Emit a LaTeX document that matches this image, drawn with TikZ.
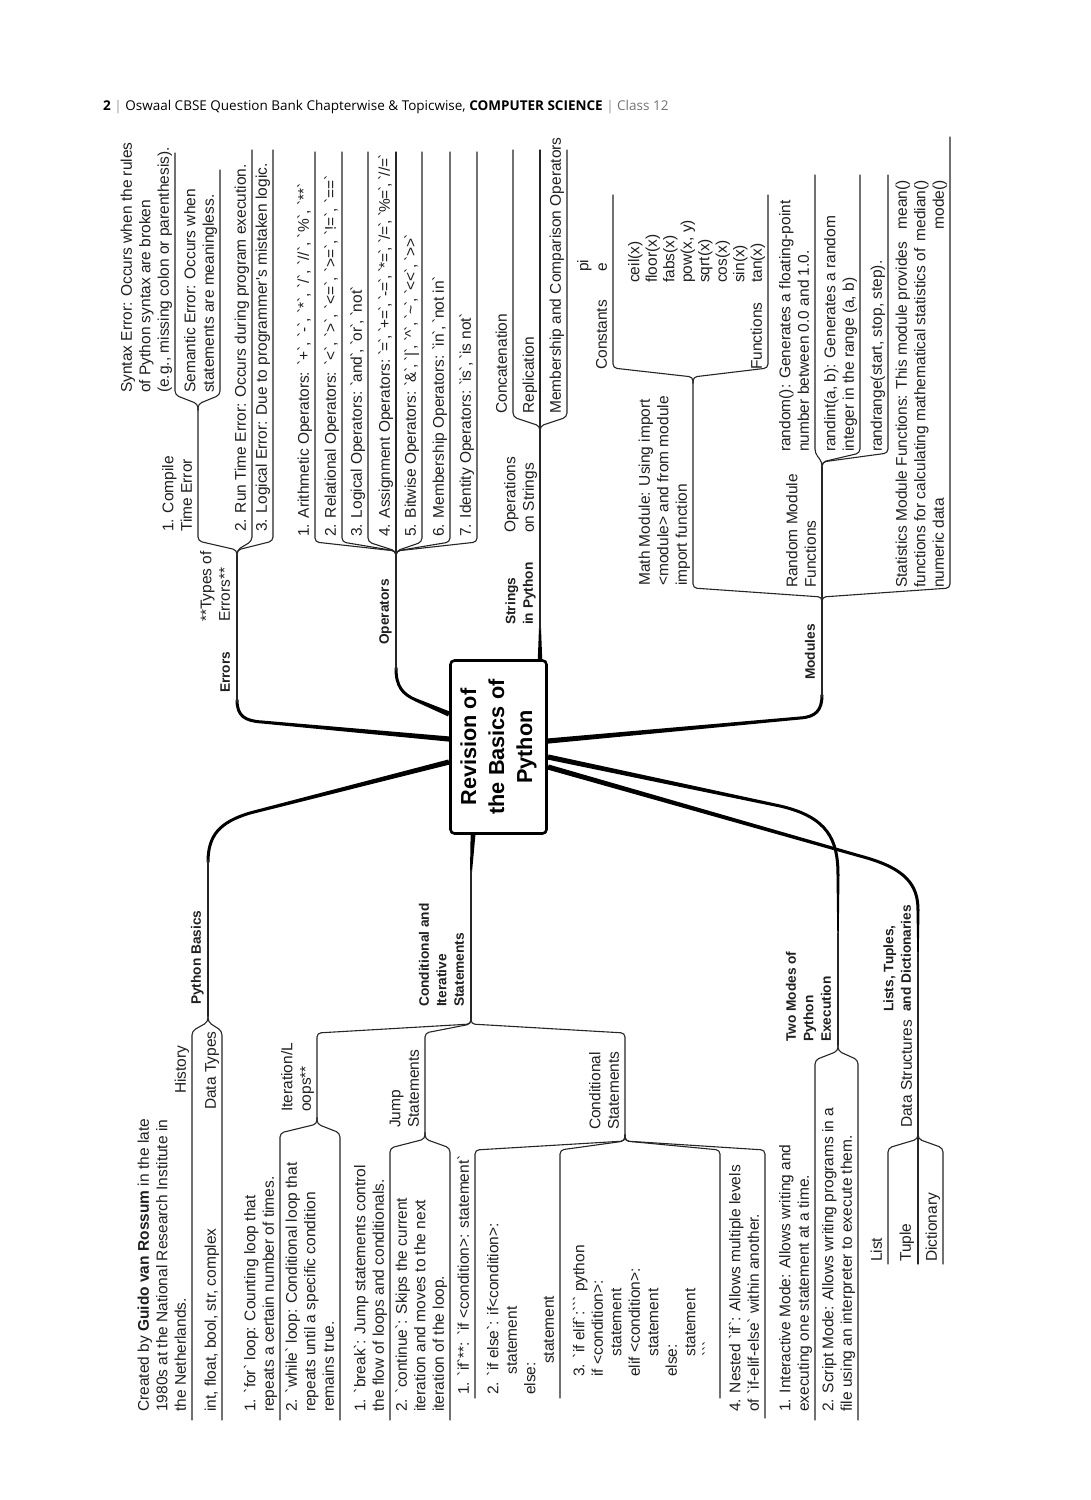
\documentclass[tikz,border=0pt]{standalone}
\usepackage{fontspec}
\newfontfamily\bodyfont{Liberation Sans}
\newfontfamily\hdfont{Open Sans}
\usetikzlibrary{calc}
\newcommand\arm[5]{\draw[ul,rounded corners=4pt] (#1,#2) -- (#1,{#2+(#4)*6}) -- (#3,{#2+(#4)*15}) -- (#3,#5);}
\newcommand\taper[4]{\fill[black] ($(#1)!#3!90:(#2)$) -- ($(#2)!#4!-90:(#1)$) -- ($(#2)!#4!90:(#1)$) -- ($(#1)!#3!-90:(#2)$) -- cycle;}
\newcommand\bt{\kern-0.9pt`\kern-0.9pt}
\newcommand\btt{\kern-1.3pt`\kern-1.3pt}
\begin{document}
\begin{tikzpicture}[x=1pt,y=-1pt,
  ul/.style={line width=1.1pt,line cap=round,black!85},
  thk/.style={line width=3pt,line cap=round},
  tx/.style={rotate=90,anchor=south west,inner sep=0pt,text depth=0pt,align=left,text=black!88,font={\bodyfont\fontsize{15.5}{18.5}\selectfont}},
  bl/.style={tx,font={\bodyfont\bfseries\fontsize{13.7}{17.5}\selectfont}},
  rootbox/.style={draw,line width=2.6pt,rounded corners=4pt,rotate=90,minimum width=173pt,minimum height=96pt,inner sep=0pt,align=center,fill=white,font={\bodyfont\bfseries\fontsize{21.7}{28}\selectfont}}]
\useasboundingbox (0,0) rectangle (1091,1500);
\fill[white] (0,0) rectangle (1091,1500);
% header
\node[anchor=base west,inner sep=0pt,font={\hdfont\fontsize{13.5}{15}\selectfont}] (hdr) at (103,110)
 {\textbf{2} {\color{black!40}|} Oswaal CBSE Question Bank Chapterwise \& Topicwise, \textbf{COMPUTER SCIENCE} {\color{black!40}|} {\color{black!55}Class 12}};
%% ---------- thick connectors ----------
% Errors
\taper{449,739}{262,722}{2.6pt}{1.5pt}
\draw[thk] (262,722) .. controls (245,721) and (237,716) .. (237,700);
% Operators
\taper{449,714}{416,700}{2.6pt}{1.6pt}
\draw[thk] (416,700) .. controls (402,694) and (396,686) .. (396,668);
% Strings
\taper{540,659}{540,628}{2.2pt}{1pt}
% Modules
\taper{548,741}{800,718}{2.6pt}{1.5pt}
\draw[thk] (800,718) .. controls (816,717) and (822,710) .. (822,695);
% Python Basics
\taper{449,762}{250,813}{2.6pt}{1.5pt}
\draw[thk] (250,813) .. controls (220,822) and (208,835) .. (208,862);
% Conditional
\taper{473,835}{471,872}{2.4pt}{1pt}
% Two modes
\taper{548,757}{780,806}{2.6pt}{1.5pt}
\draw[thk] (780,806) .. controls (828,817) and (838,840) .. (838,875);
\taper{838,875}{838,935}{1.5pt}{0.7pt}
% Lists
\taper{548,767}{860,856}{2.6pt}{1.5pt}
\draw[thk] (860,856) .. controls (906,868) and (918,885) .. (918,910);
\taper{918,910}{918,955}{1.5pt}{0.7pt}
%% ---------- thin lines and braces ----------
% Errors
\coordinate (jerr) at (237,556);
\draw[ul] (237,702) -- (jerr);
\arm{237}{556}{198}{-1}{410}
\arm{237}{556}{252}{-1}{150}
\arm{237}{556}{273}{-1}{150}
\coordinate (jcte) at (198,410);
\arm{198}{410}{175}{-1}{153}
\arm{198}{410}{220}{-1}{170}
% Operators
\coordinate (jop) at (396,557);
\draw[ul] (396,670) -- (jop);
\foreach \u in {315,342,368,396,422,450,477} {\arm{396}{557}{\u}{-1}{152}}
% Strings
\coordinate (jstr) at (540,432);
\draw[ul] (540,630) -- (jstr);
\foreach \u in {513,540,567} {\arm{540}{432}{\u}{-1}{150}}
% Modules
\coordinate (jmod) at (822,603);
\draw[ul] (822,697) -- (jmod);
\arm{822}{603}{693}{-1}{383}
\arm{822}{603}{822}{-1}{468}
\arm{822}{603}{950}{-1}{137}
\coordinate (jmath) at (693,383);
\arm{693}{383}{613}{-1}{195}
\arm{693}{383}{768}{-1}{195}
\coordinate (jrand) at (822,468);
\arm{822}{468}{815}{-1}{175}
\arm{822}{468}{860}{-1}{175}
\arm{822}{468}{888}{-1}{175}
% Python basics
\coordinate (jpb) at (208,1016);
\draw[ul] (208,860) -- (jpb);
\arm{208}{1016}{192}{1}{1420}
\arm{208}{1016}{222}{1}{1420}
% Conditional & iterative
\coordinate (jci) at (471,1018);
\draw[ul] (471,870) -- (jci);
\arm{471}{1018}{317}{1}{1118}
\arm{471}{1018}{425}{1}{1133}
\arm{471}{1018}{625}{1}{1135}
\arm{317}{1118}{280}{1}{1420}
\arm{317}{1118}{340}{1}{1420}
\arm{425}{1133}{390}{1}{1420}
\arm{425}{1133}{450}{1}{1420}
\arm{625}{1135}{475}{1}{1398}
\arm{625}{1135}{560}{1}{1398}
\arm{625}{1135}{720}{1}{1398}
\arm{625}{1135}{765}{1}{1418}
% Two modes
\coordinate (jtm) at (838,1045);
\draw[ul] (838,933) -- (jtm);
\arm{838}{1045}{815}{1}{1420}
\arm{838}{1045}{858}{1}{1420}
% Lists
\coordinate (jds) at (918,1133);
\draw[ul] (918,953) -- (jds);
\arm{918}{1133}{888}{1}{1264}
\arm{918}{1133}{918}{1}{1264}
\arm{918}{1133}{943}{1}{1264}
%% ---------- root ----------
\node[rootbox] (root) at (498.5,747) {Revision of\\the Basics of\\Python};
%% ---------- texts: right side ----------
\node[bl] (errL) at (230,693) {Errors};
\node[tx] (toe) at (230,622) {**Types of\\Errors**};
\node[tx] (cte) at (192,532) {1. Compile\\Time Error};
\node[tx] (rte) at (246,532) {2. Run Time Error: Occurs during program execution.};
\node[tx] (lge) at (267,532) {3. Logical Error: Due to programmer's mistaken logic.};
\node[tx] (syn) at (169,393) {Syntax Error: Occurs when the rules\\of Python syntax are broken\\(e.g., missing colon or parenthesis).};
\node[tx] (sem) at (214,393) {Semantic Error: Occurs when\\statements are meaningless.};
\node[bl] (opL) at (389,645) {Operators};
\node[tx] (op1) at (309,537) {1. Arithmetic Operators: `+`, `-`, `*`, `/`, `//`, `\%`, `**`};
\node[tx] (op2) at (336,537) {2. Relational Operators: `<`, `>`, `<=`, `>=`, `!=`, `==`};
\node[tx] (op3) at (362,537) {3. Logical Operators: \bt and\bt, \bt or\bt, \bt not\bt};
\node[tx] (op4) at (390,537) {4. Assignment Operators: \btt=\btt, \btt+=\btt, \btt-=\btt, \btt*=\btt, \btt/=\btt, \btt\%=\btt, \btt//=\btt};
\node[tx] (op5) at (416,537) {5. Bitwise Operators: \bt\&\bt, \bt|\bt, \bt\textasciicircum\bt, \bt\textasciitilde\bt, \bt<<\bt, \bt>>\bt};
\node[tx] (op6) at (444,537) {6. Membership Operators: \bt in\bt, \bt not in\bt};
\node[tx] (op7) at (471,537) {7. Identity Operators: \bt is\bt, \bt is not\bt};
\node[bl] (strL) at (533,625) {Strings\\in Python};
\node[tx] (ops) at (534,533) {Operations\\on Strings};
\node[tx] (cat) at (507,414) {Concatenation};
\node[tx] (rep) at (534,414) {Replication};
\node[tx] (mem) at (561,414) {Membership and Comparison Operators};
\node[bl] (modL) at (815,680) {Modules};
\node[tx] (math) at (687,586) {Math Module: Using import\\<module> and from module\\import function};
\node[tx] (cons) at (607,370) {Constants};
\node[tx] (pie) at (607,272) {pi\\e};
\node[tx] (fun) at (762,370) {Functions};
\node[tx,font={\bodyfont\fontsize{15.5}{17.5}\selectfont}] (funs) at (762,283) {ceil(x)\\floor(x)\\fabs(x)\\pow(x, y)\\sqrt(x)\\cos(x)\\sin(x)\\tan(x)};
\node[tx] (rmod) at (816,588) {Random Module\\Functions};
\node[tx] (rnd) at (809,452) {random(): Generates a floating-point\\number between 0.0 and 1.0.};
\node[tx] (rint) at (854,452) {randint(a, b): Generates a random\\integer in the range (a, b)};
\node[tx] (rrg) at (882,452) {randrange(start, stop, step).};
\node[tx] (stat) at (944,588) {Statistics Module Functions: This module provides\\functions for calculating mathematical statistics of\\numeric data};
\node[tx,anchor=south east,align=right] (mmm) at (944,180) {mean()\\median()\\mode()};
%% ---------- texts: left side ----------
\node[bl] (pbL) at (201,1005) {Python Basics};
\node[tx] (hist) at (186,1094) {History};
\node[tx] (guido) at (186,1412) {Created by \textbf{Guido van Rossum} in the late\\1980s at the National Research Institute in\\the Netherlands.};
\node[tx] (dt) at (216,1110) {Data Types};
\node[tx] (dtv) at (216,1412) {int, float, bool, str, complex};
\node[bl] (ciL) at (464,1007) {Conditional and\\Iterative\\Statements};
\node[tx] (itL) at (311,1112) {Iteration/L\\oops**};
\node[tx] (forl) at (274,1412) {1. `for` loop: Counting loop that\\repeats a certain number of times.};
\node[tx] (whl) at (334,1412) {2. `while` loop: Conditional loop that\\repeats until a specific condition\\remains true.};
\node[tx] (jmp) at (419,1128) {Jump\\Statements};
\node[tx] (brk) at (384,1412) {1. `break`: Jump statements control\\the flow of loops and conditionals.};
\node[tx] (cnt) at (444,1412) {2. `continue`: Skips the current\\iteration and moves to the next\\iteration of the loop.};
\node[tx] (condL) at (619,1130) {Conditional\\Statements};
\node[tx] (if1) at (469,1395) {1. `if`**: `if <condition>: statement`};
\node[tx] (if2) at (554,1395) {2. `if else`: if<condition>:\\\hspace*{1.3em}statement\\else:\\\hspace*{2em}statement};
\node[tx] (if3) at (714,1377) {3. `if elif`:``` python\\if <condition>:\\\hspace*{1.3em}statement\\elif <condition>:\\\hspace*{1.3em}statement\\else:\\\hspace*{1.3em}statement\\\hspace*{1.3em}```};
\node[tx] (if4) at (759,1412) {4. Nested `if`: Allows multiple levels\\of `if-elif-else` within another.};
\node[bl] (tmL) at (831,1042) {Two Modes of\\Python\\Execution};
\node[tx] (intm) at (809,1412) {1. Interactive Mode: Allows writing and\\executing one statement at a time.};
\node[tx] (scrm) at (852,1412) {2. Script Mode: Allows writing programs in a\\file using an interpreter to execute them.};
\node[bl] (ltdL) at (911,1012) {Lists, Tuples,\\and Dictionaries};
\node[tx] (dsL) at (912,1128) {Data Structures};
\node[tx] (lst) at (882,1262) {List};
\node[tx] (tup) at (911,1262) {Tuple};
\node[tx] (dic) at (937,1262) {Dictionary};
\end{tikzpicture}
\end{document}
